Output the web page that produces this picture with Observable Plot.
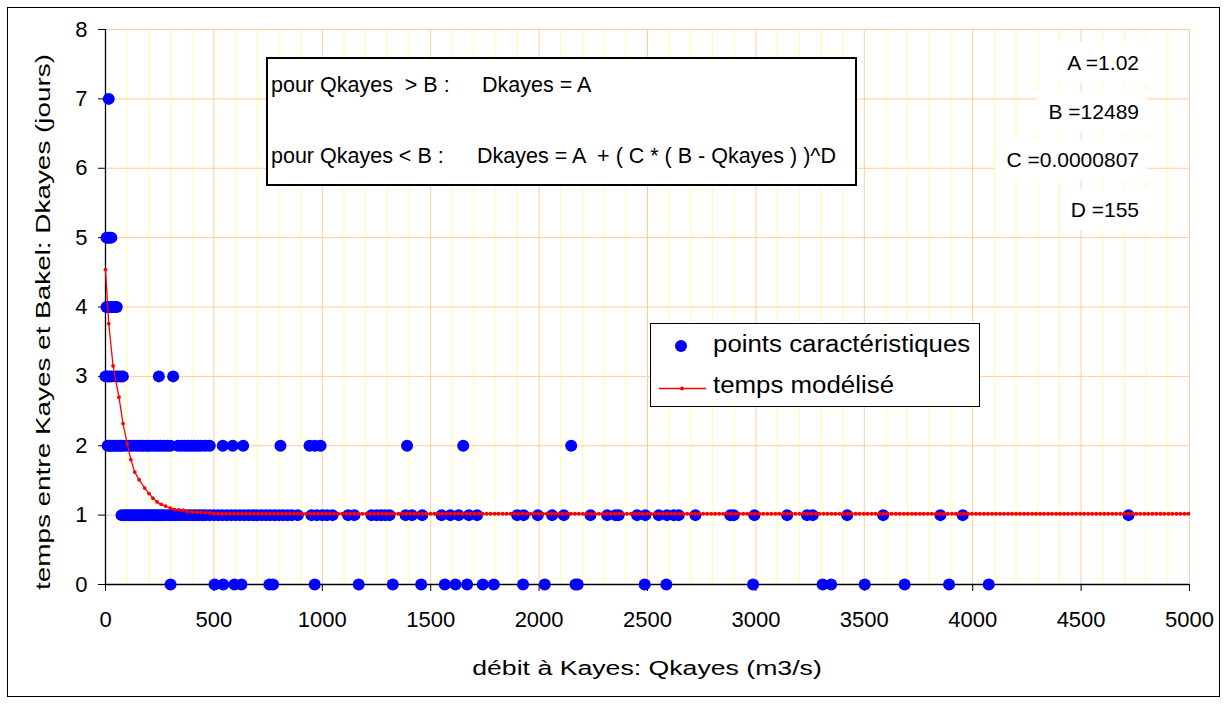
<!DOCTYPE html>
<html lang="fr">
<head>
<meta charset="utf-8">
<script src="https://cdn.jsdelivr.net/npm/d3@7"></script>
<script src="https://cdn.jsdelivr.net/npm/@observablehq/plot@0.6"></script>
<style>
  html, body { margin: 0; padding: 0; background: #fff; }
  #graphique {
    position: relative; width: 1227px; height: 704px; overflow: hidden;
    font-family: "Liberation Sans", Arial, sans-serif; color: #000; background: #fff;
  }
  #graphique > svg { position: absolute; left: 0; top: 0; }
  .cadre {
    position: absolute; left: 7px; top: 7px; width: 1213px; height: 690px;
    box-sizing: border-box; border: 1.5px solid #000; pointer-events: none;
  }
  .formule {
    position: absolute; left: 266px; top: 57px; width: 591px; height: 129px;
    box-sizing: border-box; border: 2px solid #000; background: #fff;
  }
  .txt { position: absolute; white-space: pre; line-height: normal; }
  .param {
    position: absolute; right: 80px; height: 41px; line-height: 41px;
    padding: 0 8px 0 11px; background: #fff; font-size: 21px; white-space: pre;
  }
  .legende {
    position: absolute; left: 650px; top: 323px; width: 330px; height: 84px;
    box-sizing: border-box; border: 1px solid #000; background: #fff;
  }
  .leg-txt { transform-origin: left center; transform: scaleX(1.1); }
  .titre { position: absolute; white-space: nowrap; font-size: 20.5px; line-height: normal; }
</style>
</head>
<body>
<div id="graphique"></div>
<script>
// Débit à Kayes (m3/s) des points caractéristiques, groupés par temps de propagation (jours)
const debitsJ0 = [300, 503, 543, 595, 627, 756, 773, 965, 1168, 1325, 1456, 1565, 1614, 1668,
  1740, 1791, 1926, 2026, 2168, 2178, 2487, 2587, 2987, 3308, 3347, 3502, 3686, 3891, 4074];
const debitsJ1 = [74, 85, 95, 105, 115, 125, 135, 145, 155, 165, 175, 185, 195, 205, 215, 225,
  235, 245, 255, 265, 280, 295, 310, 325, 340, 355, 370, 385, 400, 415, 430, 445, 460, 480,
  500, 520, 540, 560, 580, 600, 620, 640, 660, 680, 700, 720, 740, 760, 780, 800, 820, 840,
  860, 887, 950, 975, 1000, 1022, 1047, 1119, 1148, 1227, 1250, 1270, 1290, 1310, 1384, 1414,
  1461, 1550, 1591, 1629, 1676, 1714, 1899, 1929, 1994, 2060, 2114, 2237, 2314, 2352, 2367,
  2452, 2490, 2552, 2590, 2621, 2644, 2721, 2882, 2898, 2993, 3144, 3236, 3262, 3421, 3587,
  3851, 3954, 4719];
const debitsJ2 = [10, 20, 30, 40, 50, 60, 70, 80, 95, 110, 120, 135, 150, 165, 175, 190, 200,
  215, 230, 245, 255, 270, 285, 300, 335, 350, 365, 380, 395, 410, 425, 440, 460, 481, 541,
  587, 635, 807, 941, 966, 992, 1391, 1650, 2148];
const debitsJ3 = [0, 8, 18, 28, 48, 58, 70, 80, 246, 312];
const debitsJ4 = [5, 15, 25, 35, 45, 52];
const debitsJ5 = [5, 12, 20, 27];
const debitsJ7 = [15];

const modeleQ = [0, 15, 35, 62, 81, 100, 117, 135, 155, 181, 201, 219, 238, 257, 277, 300,
  319, 338, 357, 377, 400, 423, 441, 461, 480];
const modeleD = [4.54, 3.76, 3.15, 2.70, 2.32, 2.03, 1.80, 1.62, 1.51, 1.39, 1.31, 1.245,
  1.19, 1.155, 1.13, 1.10, 1.08, 1.075, 1.068, 1.05, 1.045, 1.042, 1.04, 1.036, 1.032];
const palierD = 1.02;
const palierQ = [500,518,537,555,574,592,611,629,648,666,685,703,722,740,759,777,796,814,833,
  851,870,888,907,925,944,962,981,999,1018,1036,1055,1073,1092,1110,1129,1147,1166,1184,1203,
  1221,1240,1258,1277,1295,1314,1332,1351,1369,1388,1406,1425,1443,1462,1480,1499,1517,1536,
  1554,1573,1591,1610,1628,1647,1665,1684,1702,1721,1739,1758,1776,1795,1813,1832,1850,1869,
  1887,1906,1924,1943,1961,1980,1998,2017,2035,2054,2072,2091,2109,2128,2146,2165,2183,2202,
  2220,2239,2257,2276,2294,2313,2331,2350,2368,2387,2405,2424,2442,2461,2479,2498,2516,2535,
  2553,2572,2590,2609,2627,2646,2664,2683,2701,2720,2738,2757,2775,2794,2812,2831,2849,2868,
  2886,2905,2923,2942,2960,2979,2997,3016,3034,3053,3071,3090,3108,3127,3145,3164,3182,3201,
  3219,3238,3256,3275,3293,3312,3330,3349,3367,3386,3404,3423,3441,3460,3478,3497,3515,3534,
  3552,3571,3589,3608,3626,3645,3663,3682,3700,3719,3737,3756,3774,3793,3811,3830,3848,3867,
  3885,3904,3922,3941,3959,3978,3996,4015,4033,4052,4070,4089,4107,4126,4144,4163,4181,4200,
  4218,4237,4255,4274,4292,4311,4329,4348,4366,4385,4403,4422,4440,4459,4477,4496,4514,4533,
  4551,4570,4588,4607,4625,4644,4662,4681,4699,4718,4736,4755,4773,4792,4810,4829,4847,4866,
  4884,4903,4921,4940,4958,4977,4995];

// Graduations
const ticksX = [0, 500, 1000, 1500, 2000, 2500, 3000, 3500, 4000, 4500, 5000];
const ticksXMineurs = [100, 200, 300, 400, 600, 700, 800, 900, 1100, 1200, 1300, 1400, 1600,
  1700, 1800, 1900, 2100, 2200, 2300, 2400, 2600, 2700, 2800, 2900, 3100, 3200, 3300, 3400,
  3600, 3700, 3800, 3900, 4100, 4200, 4300, 4400, 4600, 4700, 4800, 4900];
const ticksY = [0, 1, 2, 3, 4, 5, 6, 7, 8];

// Paramètres du modèle
const parametres = [
  {nom: "A", valeur: "1.02"},
  {nom: "B", valeur: "12489"},
  {nom: "C", valeur: "0.0000807"},
  {nom: "D", valeur: "155"}
];

const titreX = "débit à Kayes: Qkayes (m3/s)";
const titreY = "temps entre Kayes et Bakel: Dkayes (jours)";
const serieMesures = "points caractéristiques";
const serieModele = "temps modélisé";

// Tables pour les marques
const mesures = [
  ...debitsJ0.map(q => ({q, d: 0})),
  ...debitsJ1.map(q => ({q, d: 1})),
  ...debitsJ2.map(q => ({q, d: 2})),
  ...debitsJ3.map(q => ({q, d: 3})),
  ...debitsJ4.map(q => ({q, d: 4})),
  ...debitsJ5.map(q => ({q, d: 5})),
  ...debitsJ7.map(q => ({q, d: 7}))
];
const modele = [
  ...modeleQ.map((q, i) => ({q, d: modeleD[i]})),
  ...palierQ.map(q => ({q, d: palierD}))
];

const grilleMajeure = "#FFCC99";
const grilleMineure = "#FFFF99";

const svg = Plot.plot({
  width: 1227,
  height: 704,
  marginLeft: 105,
  marginRight: 38,
  marginTop: 29,
  marginBottom: 120,
  style: {fontFamily: "'Liberation Sans', Arial, sans-serif", fontSize: "22px", background: "transparent", color: "#000"},
  x: {domain: [0, 5000]},
  y: {domain: [0, 8]},
  marks: [
    Plot.ruleX(ticksXMineurs, {stroke: grilleMineure, strokeWidth: 0.9}),
    Plot.ruleX(ticksX.filter(t => t > 0), {stroke: grilleMajeure, strokeWidth: 1}),
    Plot.ruleY(ticksY.filter(t => t > 0), {stroke: grilleMajeure, strokeWidth: 1}),
    Plot.axisX({ticks: ticksX, tickSize: 7, tickPadding: 20, tickFormat: d => String(d), label: null, stroke: "#000"}),
    Plot.axisY({ticks: ticksY, tickSize: 7, tickPadding: 11, tickFormat: d => String(d), label: null, stroke: "#000"}),
    Plot.ruleX([0], {stroke: "#000", strokeWidth: 1.3}),
    Plot.ruleY([0], {stroke: "#000", strokeWidth: 1.3}),
    Plot.dot(mesures, {x: "q", y: "d", r: 6, fill: "#0000FF"}),
    Plot.line(modele, {x: "q", y: "d", stroke: "#FF0000", strokeWidth: 1.3}),
    Plot.dot(modele, {x: "q", y: "d", r: 1.9, fill: "#FF0000"})
  ]
});

const racine = document.getElementById("graphique");
racine.appendChild(svg);

function ajouter(html) {
  racine.insertAdjacentHTML("beforeend", html);
}

// Cadre de la formule
ajouter(`<div class="formule"></div>`);
const fsFormule = 21.5;
const lignes = [
  {base: 92, gauche: "pour Qkayes  > B :", droite: "Dkayes = A", x2: 482},
  {base: 163, gauche: "pour Qkayes < B :", droite: "Dkayes = A  + ( C * ( B - Qkayes ) )^D", x2: 477}
];
for (const l of lignes) {
  const top = l.base - 0.905 * fsFormule;
  ajouter(`<div class="txt" style="left:271px;top:${top}px;font-size:${fsFormule}px">${l.gauche}</div>`);
  ajouter(`<div class="txt" style="left:${l.x2}px;top:${top}px;font-size:${fsFormule}px">${l.droite}</div>`);
}

// Valeurs des paramètres
const hautsParam = [42, 91, 139, 189];
parametres.forEach((p, i) => {
  ajouter(`<div class="param" style="top:${hautsParam[i]}px">${p.nom} =${p.valeur}</div>`);
});

// Légende
const fsLeg = 23.5;
ajouter(`<div class="legende"></div>`);
ajouter(`<svg style="position:absolute;left:0;top:0" width="1227" height="704">
  <circle cx="681" cy="346" r="6" fill="#0000FF"/>
  <line x1="659" x2="706" y1="388.5" y2="388.5" stroke="#FF0000" stroke-width="1.3"/>
  <circle cx="682" cy="388.5" r="1.9" fill="#FF0000"/>
</svg>`);
ajouter(`<div class="txt leg-txt" style="left:713px;top:${352 - 0.905 * fsLeg}px;font-size:${fsLeg}px">${serieMesures}</div>`);
ajouter(`<div class="txt leg-txt" style="left:713px;top:${393 - 0.905 * fsLeg}px;font-size:${fsLeg}px">${serieModele}</div>`);

// Titres des axes
ajouter(`<div class="titre" style="left:647px;top:668px;transform:translate(-50%,-50%) scaleX(1.3)">${titreX}</div>`);
ajouter(`<div class="titre" style="left:43px;top:322px;transform:translate(-50%,-50%) rotate(-90deg) scaleX(1.36)">${titreY}</div>`);

// Cadre extérieur
ajouter(`<div class="cadre"></div>`);
</script>
</body>
</html>
